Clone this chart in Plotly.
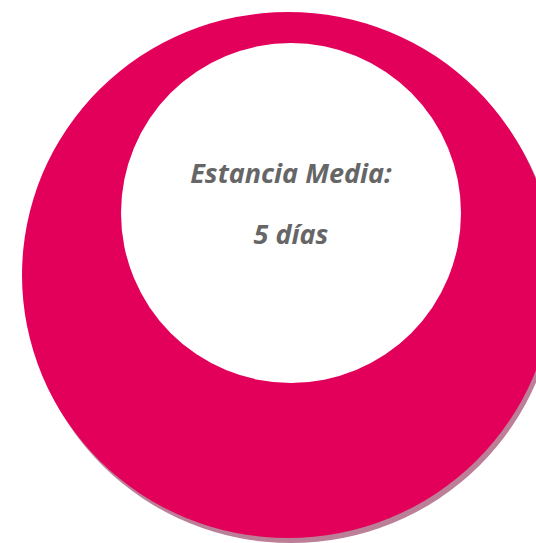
import plotly.graph_objects as go

# ---- data ----
metric_labels = ["Estancia Media:"]
metric_values = [5]
metric_units = ["días"]

# ---- style / layout constants ----
W, H = 536, 543
MAGENTA = "#E2005A"
SHADOW = "#BC7F98"
TEXT_GRAY = "#666666"

outer = dict(cx=288, cy=275, rx=266, ry=263)
inner = dict(cx=291, cy=213, r=170)
shadow_dx, shadow_dy = 3, 5

fig = go.Figure()

# shadow
fig.add_shape(type="circle", xref="x", yref="y",
              x0=outer["cx"] - outer["rx"] + shadow_dx, x1=outer["cx"] + outer["rx"] + shadow_dx,
              y0=outer["cy"] - outer["ry"] + shadow_dy, y1=outer["cy"] + outer["ry"] + shadow_dy,
              fillcolor=SHADOW, line=dict(width=0), layer="below")
# outer magenta disc
fig.add_shape(type="circle", xref="x", yref="y",
              x0=outer["cx"] - outer["rx"], x1=outer["cx"] + outer["rx"],
              y0=outer["cy"] - outer["ry"], y1=outer["cy"] + outer["ry"],
              fillcolor=MAGENTA, line=dict(width=0), layer="below")
# inner white disc
fig.add_shape(type="circle", xref="x", yref="y",
              x0=inner["cx"] - inner["r"], x1=inner["cx"] + inner["r"],
              y0=inner["cy"] - inner["r"], y1=inner["cy"] + inner["r"],
              fillcolor="white", line=dict(width=0), layer="below")

texts = [metric_labels[0], f"{metric_values[0]} {metric_units[0]}"]
text_x = [291, 291]
text_y = [176, 237]
fig.add_trace(go.Scatter(
    x=text_x, y=text_y, mode="text",
    text=[f"<i>{t}</i>" for t in texts],
    textposition="middle center",
    textfont=dict(family="Open Sans", size=27, color=TEXT_GRAY, weight=700),
    hoverinfo="skip", showlegend=False,
))

fig.update_layout(
    width=W, height=H,
    margin=dict(l=0, r=0, t=0, b=0),
    paper_bgcolor="white", plot_bgcolor="white",
    xaxis=dict(range=[0, W], visible=False, fixedrange=True),
    yaxis=dict(range=[H, 0], visible=False, fixedrange=True),
    showlegend=False,
)

fig.write_html("out.html",
               config={"displayModeBar": False},
               post_script="document.body.style.margin='0';document.body.style.overflow='hidden';")
